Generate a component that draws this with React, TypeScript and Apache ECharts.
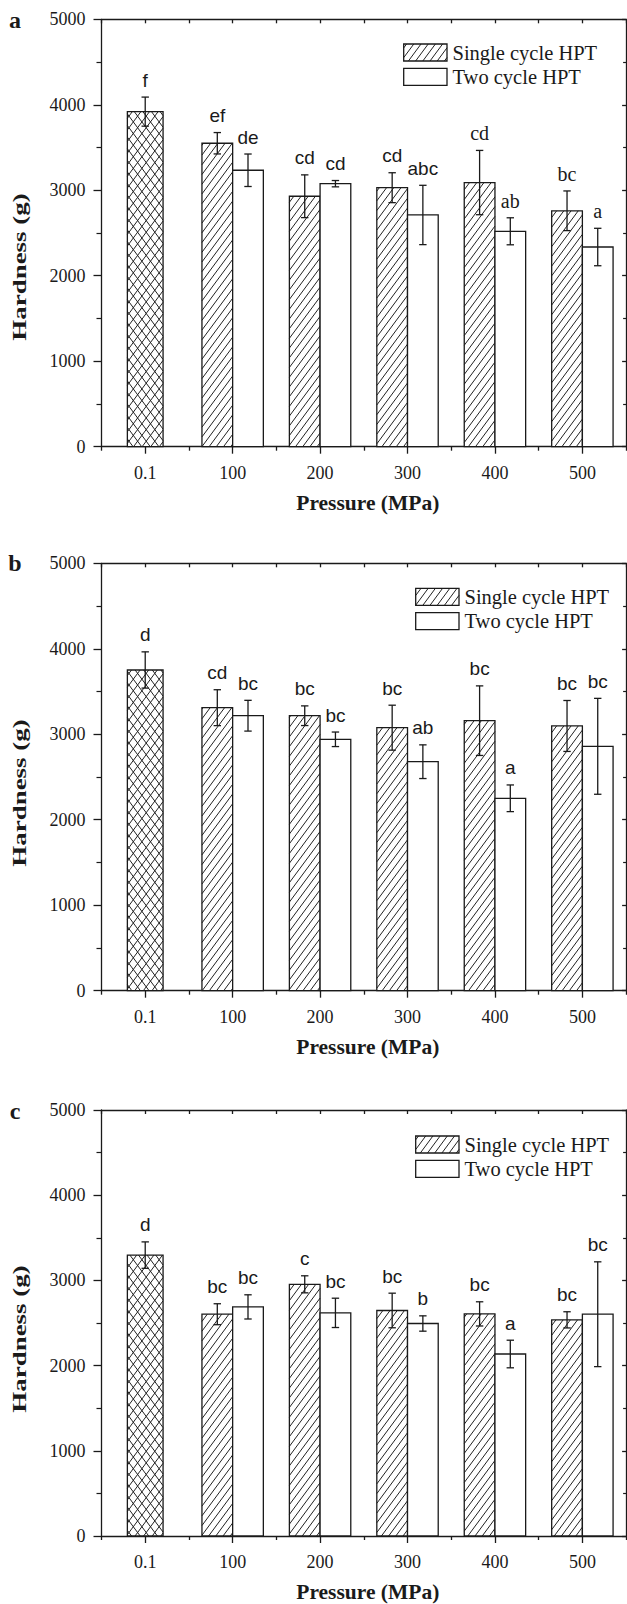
import React, { useEffect, useRef } from "react";
import * as echarts from "echarts";

// ---------- data ----------
const categories = ["0.1", "100", "200", "300", "400", "500"];
const seriesNames = ["Single cycle HPT", "Two cycle HPT"];
const panelLabels = ["a", "b", "c"];
const xTitle = "Pressure (MPa)";
const yTitle = "Hardness (g)";

// Panel a
const aControl = 3920;
const aControlErr = 170;
const aControlLetter = "f";
const aSingle = [3550, 2930, 3030, 3090, 2760];
const aSingleErr = [125, 250, 175, 376, 232];
const aSingleLetters = ["ef", "cd", "cd", "cd", "bc"];
const aSingleSerif = [false, false, false, true, true];
const aTwo = [3234, 3077, 2711, 2520, 2336];
const aTwoErr = [190, 37, 347, 158, 219];
const aTwoLetters = ["de", "cd", "abc", "ab", "a"];
const aTwoSerif = [false, false, false, true, true];

// Panel b
const bControl = 3752;
const bControlErr = 212;
const bControlLetter = "d";
const bSingle = [3311, 3217, 3077, 3159, 3097];
const bSingleErr = [210, 115, 263, 407, 298];
const bSingleLetters = ["cd", "bc", "bc", "bc", "bc"];
const bTwo = [3217, 2941, 2679, 2251, 2859];
const bTwoErr = [180, 85, 197, 156, 561];
const bTwoLetters = ["bc", "bc", "ab", "a", "bc"];

// Panel c
const cControl = 3297;
const cControlErr = 155;
const cControlLetter = "d";
const cSingle = [2603, 2954, 2647, 2607, 2537];
const cSingleErr = [123, 100, 203, 142, 95];
const cSingleLetters = ["bc", "c", "bc", "bc", "bc"];
const cTwo = [2689, 2619, 2494, 2136, 2603];
const cTwoErr = [142, 172, 90, 162, 615];
const cTwoLetters = ["bc", "bc", "b", "a", "bc"];

const noSerif = [false, false, false, false, false];

// ---------- styling / layout ----------
const INK = "#1a1a1a";
const SERIF = '"Liberation Serif", "Times New Roman", serif';
const SANS = '"Liberation Sans", Arial, sans-serif';
const GRID_LEFT = 101.5;
const GRID_W = 524.6;
const GRID_TOPS = [19.3, 563.3, 1110];
const GRID_H = 427.4;
const LEGEND_X = [403.7, 415.7, 415.7];
const LEGEND_Y = [44, 588.3, 1136];
const YTITLE_Y = [267, 793, 1339];
const PANEL_LABEL_Y = [19.5, 562.8, 1110.5];
const BAR_W = 30.7;
const CTRL_W = 35.7;
const CAP = 3.7;
const LETTER_GAP = 17;
const HATCH_S = 7.2;
const CROSS_S = 8.6;
const HATCH_K = 1.35;

type Item = { cat: number; val: number; err: number; kind: number; letter: string; serif: boolean };

function buildItems(
  control: number, controlErr: number, controlLetter: string,
  single: number[], singleErr: number[], singleLetters: string[], singleSerif: boolean[],
  two: number[], twoErr: number[], twoLetters: string[], twoSerif: boolean[]
): Item[] {
  const items: Item[] = [
    { cat: 0, val: control, err: controlErr, kind: 0, letter: controlLetter, serif: false },
  ];
  for (let i = 0; i < single.length; i++) {
    items.push({ cat: i + 1, val: single[i], err: singleErr[i], kind: 1, letter: singleLetters[i], serif: singleSerif[i] });
    items.push({ cat: i + 1, val: two[i], err: twoErr[i], kind: 2, letter: twoLetters[i], serif: twoSerif[i] });
  }
  return items;
}

const panels: Item[][] = [
  buildItems(aControl, aControlErr, aControlLetter, aSingle, aSingleErr, aSingleLetters, aSingleSerif, aTwo, aTwoErr, aTwoLetters, aTwoSerif),
  buildItems(bControl, bControlErr, bControlLetter, bSingle, bSingleErr, bSingleLetters, noSerif, bTwo, bTwoErr, bTwoLetters, noSerif),
  buildItems(cControl, cControlErr, cControlLetter, cSingle, cSingleErr, cSingleLetters, noSerif, cTwo, cTwoErr, cTwoLetters, noSerif),
];

const hatchStyle = { stroke: "#222222", lineWidth: 1 };

// diagonal hatch lines clipped to a rectangle; dir 1 = "/", -1 = "\"
function hatch(x1: number, y1: number, x2: number, y2: number, dir: number, s: number): any[] {
  const out: any[] = [];
  const k = HATCH_K;
  if (dir === 1) {
    const cMin = x1 + y1 / k;
    const cMax = x2 + y2 / k;
    for (let c = Math.ceil(cMin / s) * s; c <= cMax; c += s) {
      const ya = Math.max(y1, k * (c - x2));
      const yb = Math.min(y2, k * (c - x1));
      if (yb - ya > 0.2) {
        out.push({ type: "line", silent: true, shape: { x1: c - ya / k, y1: ya, x2: c - yb / k, y2: yb }, style: hatchStyle });
      }
    }
  } else {
    const cMin = x1 - y2 / k;
    const cMax = x2 - y1 / k;
    for (let c = Math.ceil(cMin / s) * s; c <= cMax; c += s) {
      const ya = Math.max(y1, k * (x1 - c));
      const yb = Math.min(y2, k * (x2 - c));
      if (yb - ya > 0.2) {
        out.push({ type: "line", silent: true, shape: { x1: c + ya / k, y1: ya, x2: c + yb / k, y2: yb }, style: hatchStyle });
      }
    }
  }
  return out;
}

function barShapes(x1: number, y1: number, x2: number, y2: number, kind: number): any[] {
  const children: any[] = [
    { type: "rect", shape: { x: x1, y: y1, width: x2 - x1, height: y2 - y1 }, style: { fill: "#ffffff" } },
  ];
  if (kind === 0) {
    children.push(...hatch(x1, y1, x2, y2, 1, CROSS_S), ...hatch(x1, y1, x2, y2, -1, CROSS_S));
  } else if (kind === 1) {
    children.push(...hatch(x1, y1, x2, y2, 1, HATCH_S));
  }
  children.push({
    type: "rect",
    shape: { x: x1, y: y1, width: x2 - x1, height: y2 - y1 },
    style: { fill: "none", stroke: INK, lineWidth: 1.3 },
  });
  return children;
}

const plainNumber = (v: number) => String(v);

function buildOption(): any {
  const grid: any[] = [];
  const xAxis: any[] = [];
  const yAxis: any[] = [];
  const series: any[] = [];
  const graphic: any[] = [];

  const lineStyle = { color: INK, width: 1.3 };

  panels.forEach((items, g) => {
    grid.push({ left: GRID_LEFT, top: GRID_TOPS[g], width: GRID_W, height: GRID_H, containLabel: false });

    // bottom axis: line, centre ticks, labels, title
    xAxis.push({
      gridIndex: g, type: "category", data: categories, position: "bottom", boundaryGap: true,
      axisLine: { show: true, onZero: false, lineStyle },
      axisTick: { show: true, alignWithLabel: true, interval: 0, length: 7, lineStyle },
      axisLabel: { show: true, interval: 0, margin: 17, color: INK, fontFamily: SERIF, fontSize: 18 },
      splitLine: { show: false },
      name: xTitle, nameLocation: "middle", nameGap: 45,
      nameTextStyle: { color: INK, fontFamily: SERIF, fontWeight: "bold", fontSize: 21.5, padding: [0, 0, 0, 8] },
    });
    // bottom axis: boundary ticks
    xAxis.push({
      gridIndex: g, type: "category", data: categories, position: "bottom", boundaryGap: true,
      axisLine: { show: false, onZero: false },
      axisTick: { show: true, interval: 0, length: 4, lineStyle },
      axisLabel: { show: false }, splitLine: { show: false },
    });
    // top axis: line + centre ticks inside
    xAxis.push({
      gridIndex: g, type: "category", data: categories, position: "top", boundaryGap: true,
      axisLine: { show: true, onZero: false, lineStyle },
      axisTick: { show: true, inside: true, alignWithLabel: true, interval: 0, length: 4, lineStyle },
      axisLabel: { show: false }, splitLine: { show: false },
    });
    // top axis: boundary ticks inside
    xAxis.push({
      gridIndex: g, type: "category", data: categories, position: "top", boundaryGap: true,
      axisLine: { show: false, onZero: false },
      axisTick: { show: true, inside: true, interval: 0, length: 4, lineStyle },
      axisLabel: { show: false }, splitLine: { show: false },
    });

    yAxis.push({
      gridIndex: g, type: "value", position: "left", min: 0, max: 5000, interval: 1000,
      axisLine: { show: true, onZero: false, lineStyle },
      axisTick: { show: true, length: 8, lineStyle },
      minorTick: { show: true, splitNumber: 2, length: 5, lineStyle: { color: INK, width: 1.2 } },
      axisLabel: { show: true, margin: 16, color: INK, fontFamily: SERIF, fontSize: 18, formatter: plainNumber },
      splitLine: { show: false }, minorSplitLine: { show: false },
    });
    yAxis.push({
      gridIndex: g, type: "value", position: "right", min: 0, max: 5000, interval: 1000,
      axisLine: { show: true, onZero: false, lineStyle },
      axisTick: { show: true, inside: true, length: 4, lineStyle },
      minorTick: { show: true, splitNumber: 2, length: 3, lineStyle: { color: INK, width: 1.2 } },
      axisLabel: { show: false },
      splitLine: { show: false }, minorSplitLine: { show: false },
    });

    const data = items.map((it) => [it.cat, it.val, it.err, it.kind]);

    series.push({
      type: "custom", name: "bars-" + panelLabels[g], coordinateSystem: "cartesian2d",
      xAxisIndex: g * 4, yAxisIndex: g * 2, z: 2,
      encode: { x: 0, y: 1 }, data,
      renderItem: (params: any, api: any) => {
        const cat = api.value(0);
        const val = api.value(1);
        const kind = api.value(3);
        const base = api.coord([cat, 0]);
        const top = api.coord([cat, val]);
        const cx = base[0];
        let x1: number;
        let x2: number;
        if (kind === 0) { x1 = cx - CTRL_W / 2; x2 = cx + CTRL_W / 2; }
        else if (kind === 1) { x1 = cx - BAR_W; x2 = cx; }
        else { x1 = cx; x2 = cx + BAR_W; }
        return { type: "group", children: barShapes(x1, top[1], x2, base[1], kind) };
      },
    });

    series.push({
      type: "custom", name: "errors-" + panelLabels[g], coordinateSystem: "cartesian2d",
      xAxisIndex: g * 4, yAxisIndex: g * 2, z: 3,
      encode: { x: 0, y: 1 }, data,
      renderItem: (params: any, api: any) => {
        const it = items[params.dataIndex];
        const cat = api.value(0);
        const val = api.value(1);
        const err = api.value(2);
        const kind = api.value(3);
        const c = api.coord([cat, val]);
        const bx = c[0] + (kind === 1 ? -BAR_W / 2 : kind === 2 ? BAR_W / 2 : 0);
        const yt = api.coord([cat, val + err])[1];
        const yb = api.coord([cat, val - err])[1];
        const st = { stroke: INK, lineWidth: 1.3 };
        return {
          type: "group",
          children: [
            { type: "line", shape: { x1: bx, y1: yt, x2: bx, y2: yb }, style: st },
            { type: "line", shape: { x1: bx - CAP, y1: yt, x2: bx + CAP, y2: yt }, style: st },
            { type: "line", shape: { x1: bx - CAP, y1: yb, x2: bx + CAP, y2: yb }, style: st },
            {
              type: "text", x: bx, y: yt - LETTER_GAP,
              style: {
                text: it.letter, fill: INK,
                fontFamily: it.serif ? SERIF : SANS, fontSize: it.serif ? 20 : 19,
                align: "center", verticalAlign: "middle",
              },
            },
          ],
        };
      },
    });

    // panel label
    graphic.push({
      type: "text", x: 15, y: PANEL_LABEL_Y[g],
      style: { text: panelLabels[g], fill: INK, fontFamily: SERIF, fontWeight: "bold", fontSize: 24, align: "center", verticalAlign: "middle" },
    });
    // y-axis title (stretched along its length like the original)
    graphic.push({
      type: "text", x: 19, y: YTITLE_Y[g], rotation: Math.PI / 2, scaleX: 1.42, scaleY: 1,
      style: { text: yTitle, fill: INK, fontFamily: SERIF, fontWeight: "bold", fontSize: 19, align: "center", verticalAlign: "middle" },
    });
    // legend
    const lx = LEGEND_X[g];
    const ly = LEGEND_Y[g];
    const sw = 43.3;
    const sh = 17;
    const gap = 24.3;
    const legendChildren: any[] = [
      ...barShapes(lx, ly, lx + sw, ly + sh, 1),
      ...barShapes(lx, ly + gap, lx + sw, ly + gap + sh, 2),
      {
        type: "text", x: lx + sw + 5.5, y: ly + sh / 2,
        style: { text: seriesNames[0], fill: INK, fontFamily: SERIF, fontSize: 20.5, align: "left", verticalAlign: "middle" },
      },
      {
        type: "text", x: lx + sw + 5.5, y: ly + gap + sh / 2,
        style: { text: seriesNames[1], fill: INK, fontFamily: SERIF, fontSize: 20.5, align: "left", verticalAlign: "middle" },
      },
    ];
    graphic.push({ type: "group", children: legendChildren });
  });

  return {
    animation: false,
    backgroundColor: "#ffffff",
    grid, xAxis, yAxis, series,
    graphic: { elements: graphic },
  };
}

export default function App() {
  const ref = useRef<HTMLDivElement>(null);
  useEffect(() => {
    if (!ref.current) return;
    const chart = echarts.init(ref.current, undefined, { renderer: "svg" });
    chart.setOption(buildOption());
    return () => chart.dispose();
  }, []);
  return (
    <div
      ref={ref}
      style={{ position: "absolute", left: 0, top: 0, width: 627, height: 1604, background: "#ffffff" }}
    />
  );
}
